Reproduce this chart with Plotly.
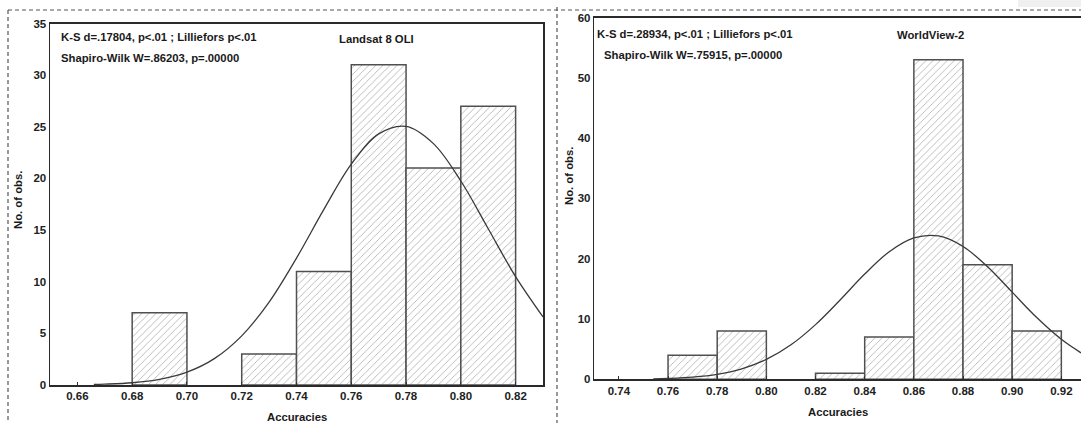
import plotly.graph_objects as go

# ---------------- data ----------------
# Landsat 8 OLI histogram (bin left edges, counts)
l8_bin_left = [0.68, 0.72, 0.74, 0.76, 0.78, 0.80]
l8_counts = [7, 3, 11, 31, 21, 27]
# expected normal curve
l8_curve_x = [0.666, 0.67, 0.68, 0.69, 0.70, 0.71, 0.72, 0.73, 0.74, 0.75, 0.76,
              0.77, 0.78, 0.79, 0.80, 0.81, 0.82, 0.83]
l8_curve_y = [0.05, 0.08, 0.22, 0.55, 1.24, 2.55, 4.76, 8.03, 12.29, 17.0, 21.38,
              24.31, 25.04, 23.37, 19.75, 15.13, 10.49, 6.59]

# WorldView-2 histogram
wv_bin_left = [0.76, 0.78, 0.82, 0.84, 0.86, 0.88, 0.90]
wv_counts = [4, 8, 1, 7, 53, 19, 8]
wv_curve_x = [0.754, 0.76, 0.77, 0.78, 0.79, 0.80, 0.81, 0.82, 0.83, 0.84, 0.85,
              0.86, 0.87, 0.88, 0.89, 0.90, 0.91, 0.92, 0.928]
wv_curve_y = [0.08, 0.15, 0.37, 0.83, 1.74, 3.29, 5.72, 9.07, 13.15, 17.45, 21.16,
              23.45, 23.77, 22.03, 18.66, 14.45, 10.24, 6.63, 4.39]

bin_width = 0.02

l8_ticks = [0.66, 0.68, 0.70, 0.72, 0.74, 0.76, 0.78, 0.80, 0.82]
wv_ticks = [0.74, 0.76, 0.78, 0.80, 0.82, 0.84, 0.86, 0.88, 0.90, 0.92]

l8_text = ["K-S d=.17804, p<.01 ; Lilliefors p<.01", "Shapiro-Wilk W=.86203, p=.00000", "Landsat 8 OLI"]
wv_text = ["K-S d=.28934, p<.01 ; Lilliefors p<.01", "Shapiro-Wilk W=.75915, p=.00000", "WorldView-2"]

# ---------------- styling ----------------
FONT = "Liberation Sans, Arial, sans-serif"
W, H = 1081, 423


def px(x):
    return x / W


def py(y):
    return 1 - y / H


bar_style = dict(
    marker=dict(
        color="white",
        line=dict(color="#505050", width=1.5),
        pattern=dict(shape="/", fgcolor="#5a5a5a", bgcolor="white", size=5, solidity=0.16),
    ),
    width=bin_width,
    showlegend=False,
    hoverinfo="skip",
)
curve_style = dict(mode="lines", line=dict(color="#3a3a3a", width=1.3, shape="spline"),
                   showlegend=False, hoverinfo="skip")

fig = go.Figure()
fig.add_trace(go.Bar(x=[b + bin_width / 2 for b in l8_bin_left], y=l8_counts,
                     xaxis="x", yaxis="y", **bar_style))
fig.add_trace(go.Scatter(x=l8_curve_x, y=l8_curve_y, xaxis="x", yaxis="y", **curve_style))
fig.add_trace(go.Bar(x=[b + bin_width / 2 for b in wv_bin_left], y=wv_counts,
                     xaxis="x2", yaxis="y2", **bar_style))
fig.add_trace(go.Scatter(x=wv_curve_x, y=wv_curve_y, xaxis="x2", yaxis="y2", **curve_style))

tickfont = dict(family=FONT, size=11.5, color="#222222", weight="bold")
axis_common = dict(showgrid=False, zeroline=False, showline=True, linecolor="#2a2a2a",
                   linewidth=1.5, tickfont=tickfont, automargin=False)

fig.update_layout(
    width=W, height=H,
    margin=dict(l=0, r=0, t=0, b=0),
    paper_bgcolor="white", plot_bgcolor="white",
    bargap=0,
    font=dict(family=FONT, size=12, color="#222222"),
    xaxis=dict(domain=[px(50), px(543)], range=[0.65, 0.83], anchor="y",
               tickvals=l8_ticks, ticktext=[f"{t:.2f}" for t in l8_ticks],
               ticks="inside", ticklen=3, tickcolor="#333333", mirror=True,
               **axis_common),
    yaxis=dict(domain=[py(385), py(23.5)], range=[0, 35], anchor="x",
               tickvals=[0, 5, 10, 15, 20, 25, 30, 35], ticks="", mirror=True,
               **axis_common),
    xaxis2=dict(domain=[px(594.3), 1.0], range=[0.73, 0.928], anchor="y2",
                tickvals=wv_ticks, ticktext=[f"{t:.2f}" for t in wv_ticks],
                ticks="inside", ticklen=3, tickcolor="#333333", mirror=True,
                **axis_common),
    yaxis2=dict(domain=[py(379.3), py(17.5)], range=[0, 60], anchor="x2",
                tickvals=[0, 10, 20, 30, 40, 50, 60], ticks="",
                **axis_common),
)

ann = []
bold = lambda s: f"<b>{s}</b>"
ann_font = dict(family=FONT, size=11.3, color="#1a1a1a")
# left panel texts
ann.append(dict(x=px(59), y=py(37), text=bold(l8_text[0]), xanchor="left"))
ann.append(dict(x=px(59), y=py(58), text=bold(l8_text[1]), xanchor="left"))
ann.append(dict(x=px(376), y=py(39), text=bold(l8_text[2]), xanchor="center"))
ann.append(dict(x=px(296.5), y=py(417), text=bold("Accuracies"), xanchor="center"))
ann.append(dict(x=px(18), y=py(200), text=bold("No. of obs."), xanchor="center", textangle=-90))
# right panel texts
ann.append(dict(x=px(595), y=py(34), text=bold(wv_text[0]), xanchor="left"))
ann.append(dict(x=px(602), y=py(55), text=bold(wv_text[1]), xanchor="left"))
ann.append(dict(x=px(930), y=py(35.5), text=bold(wv_text[2]), xanchor="center"))
ann.append(dict(x=px(838), y=py(412), text=bold("Accuracies"), xanchor="center"))
ann.append(dict(x=px(569), y=py(176), text=bold("No. of obs."), xanchor="center", textangle=-90))
for a in ann:
    a.update(xref="paper", yref="paper", yanchor="middle", showarrow=False, font=ann_font)
fig.update_layout(annotations=ann)

dash = dict(color="#555555", width=1.2, dash="4px,3px")
shapes = [
    dict(type="rect", xref="paper", yref="paper", x0=px(1018), x1=1, y0=py(7), y1=1,
         fillcolor="#f0f0f0", line=dict(width=0), layer="below"),
    dict(type="line", xref="paper", yref="paper", x0=px(8), x1=1, y0=py(10), y1=py(10), line=dash),
    dict(type="line", xref="paper", yref="paper", x0=px(8), x1=px(8), y0=py(10), y1=0, line=dash),
    dict(type="line", xref="paper", yref="paper", x0=px(557), x1=px(557), y0=py(7), y1=0, line=dash),
]
fig.update_layout(shapes=shapes)

fig.write_html("out.html",
               config={"displayModeBar": False, "staticPlot": True},
               post_script="document.body.style.margin='0';document.body.style.overflow='hidden';")
